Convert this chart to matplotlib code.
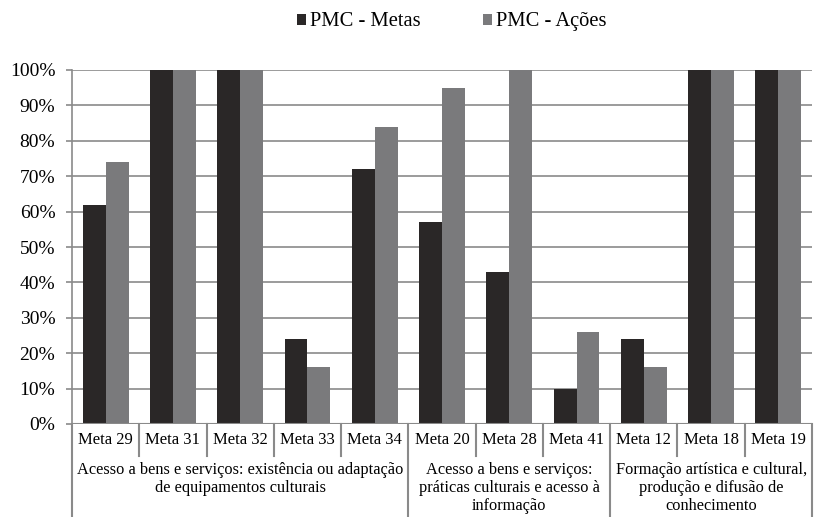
import numpy as np
import matplotlib.pyplot as plt
from matplotlib.lines import Line2D

plt.rcParams['font.family'] = 'serif'
plt.rcParams['font.serif'] = ['Liberation Serif', 'Times New Roman', 'DejaVu Serif']

# Data
metas = ['Meta 29', 'Meta 31', 'Meta 32', 'Meta 33', 'Meta 34',
         'Meta 20', 'Meta 28', 'Meta 41',
         'Meta 12', 'Meta 18', 'Meta 19']
pmc_metas = [62, 100, 100, 24, 72, 57, 43, 10, 24, 100, 100]
pmc_acoes = [74, 100, 100, 16, 84, 95, 100, 26, 16, 100, 100]
groups = ['Acesso a bens e serviços: existência ou adaptação\nde equipamentos culturais',
          'Acesso a bens e serviços:\npráticas culturais e acesso à\ninformação',
          'Formação artística e cultural,\nprodução e difusão de\nconhecimento']
group_sizes = [5, 3, 3]

dark = '#2a2727'
grey = '#7a7a7c'
line_c = '#8a8a8a'

fig = plt.figure(figsize=(8.16, 5.17), dpi=100)
ax = fig.add_axes([72 / 816, 1 - 424 / 517, (812 - 72) / 816, (424 - 70) / 517])

x = np.arange(len(metas))
w = 0.34
ax.bar(x - w / 2, pmc_metas, w, color=dark, label='PMC - Metas', zorder=3)
ax.bar(x + w / 2, pmc_acoes, w, color=grey, label='PMC - Ações', zorder=3)

ax.set_xlim(-0.5, len(metas) - 0.5)
ax.set_ylim(0, 100)
ax.set_yticks(range(0, 101, 10))
ax.set_yticklabels([f'{v}%' for v in range(0, 101, 10)], fontsize=14)
ax.yaxis.grid(True, color=line_c, linewidth=1.2, zorder=0)
ax.tick_params(axis='y', length=4, color=line_c, width=1.2, pad=8)
ax.set_xticks([])
for s in ['top', 'right', 'bottom']:
    ax.spines[s].set_visible(False)
ax.spines['left'].set_color(line_c)
ax.spines['left'].set_linewidth(1.2)
ax.axhline(0, color=line_c, linewidth=1.5, zorder=4)

# category labels and separators below the axis
trans = ax.get_xaxis_transform()
for i, m in enumerate(metas):
    ax.text(i, -0.045, m, transform=trans, ha='center', va='center', fontsize=12)

bounds = np.cumsum([0] + group_sizes) - 0.5
for b in np.arange(-0.5, len(metas) + 0.5, 1.0):
    if b in bounds:
        y_end = -0.33
    else:
        y_end = -0.09
    ax.add_line(Line2D([b, b], [0, y_end], transform=trans, color=line_c,
                       linewidth=1.5, clip_on=False))

for g, start, size in zip(groups, bounds[:-1], group_sizes):
    ax.text(start + size / 2, -0.108, g, transform=trans, ha='center', va='top',
            fontsize=11.8, linespacing=1.15)

ax.legend(loc='upper center', bbox_to_anchor=(0.513, 1.215), ncol=2, frameon=False,
          fontsize=14.8, handlelength=0.45, handleheight=0.45, handletextpad=0.2,
          columnspacing=3.0)

fig.savefig('out.png', dpi=100)
